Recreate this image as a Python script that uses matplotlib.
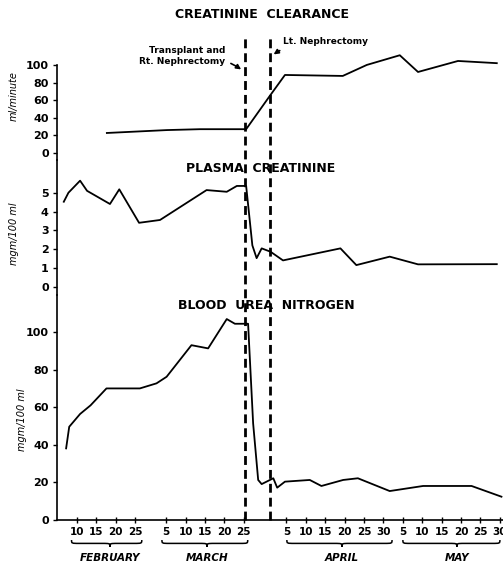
import matplotlib.pyplot as plt
import matplotlib.transforms as mtransforms
from matplotlib.lines import Line2D
from matplotlib.path import Path
from matplotlib.patches import PathPatch

plt.rcParams['font.family'] = ['DejaVu Sans']

# x values are day-of-year (Feb 1 = 32, Mar 1 = 60, Apr 1 = 91, May 1 = 121)
clear_days = [48.7, 64.2, 72.7, 84.6, 90.5, 94.6, 109.5, 115.7, 124.2, 128.9, 139.2, 149.2]
clear_vals = [22.7, 26, 27, 27, 63.6, 88.6, 87.5, 100, 111, 92, 104.5, 102]

creat_days = [37.6, 38.8, 41.8, 43.6, 49.5, 51.9, 57.0, 62.4, 74.4, 79.6, 82.2, 84.6,
              86.2, 87.3, 88.6, 90.9, 94.1, 108.9, 113.0, 121.6, 128.9, 149.2]
creat_vals = [4.52, 5.0, 5.64, 5.1, 4.4, 5.18, 3.4, 3.55, 5.14, 5.05, 5.36, 5.36,
              2.2, 1.52, 2.04, 1.86, 1.4, 2.04, 1.15, 1.6, 1.19, 1.2]

bun_days = [38.2, 39.0, 41.8, 44.5, 48.6, 57.2, 61.5, 64.1, 70.5, 74.8, 79.6, 81.7, 85.1,
            86.4, 87.7, 88.6, 91.6, 92.6, 94.6, 101.0, 104.0, 109.6, 113.4, 121.6,
            130.2, 142.7, 150.4]
bun_vals = [38.1, 49.6, 56.4, 61, 70, 70, 72.7, 76.2, 93, 91.3, 106.9, 104.4, 104.4,
            51.4, 21.3, 19.1, 22.2, 17.2, 20.4, 21.3, 18.1, 21.3, 22.2, 15.4,
            18.1, 18.1, 12.4]

events = [("Transplant and\nRt. Nephrectomy", 84.3), ("Lt. Nephrectomy", 90.7)]

tick_days = [41, 46, 51, 56, 64, 69, 74, 79, 84, 95, 100, 105, 110, 115, 120,
             125, 130, 135, 140, 145, 150]
tick_labels = ["10", "15", "20", "25", "5", "10", "15", "20", "25",
               "5", "10", "15", "20", "25", "30", "5", "10", "15", "20", "25", "30"]

months = ["FEBRUARY", "MARCH", "APRIL", "MAY"]
month_start = [39.6, 62.9, 95.1, 125.0]
month_end = [57.7, 85.0, 122.2, 150.0]
month_mid = [49.5, 74.5, 109.3, 138.9]

W, H = 503, 566
fig = plt.figure(figsize=(W / 100, H / 100), dpi=100)


def fy(px):
    return 1 - px / H


x0, x1 = 57 / W, 1.0
ax1 = fig.add_axes([x0, fy(160), x1 - x0, fy(35) - fy(160)])
ax2 = fig.add_axes([x0, fy(295), x1 - x0, fy(160) - fy(295)], sharex=ax1)
ax3 = fig.add_axes([x0, fy(520), x1 - x0, fy(295) - fy(520)], sharex=ax1)

lw = 1.3
ax1.plot(clear_days, clear_vals, color='black', lw=lw)
ax2.plot(creat_days, creat_vals, color='black', lw=lw)
ax3.plot(bun_days, bun_vals, color='black', lw=lw)

ax1.set_ylim(-8, 134)
ax2.set_ylim(-0.44, 6.74)
ax3.set_ylim(0, 119.7)
ax3.set_xlim(35.85, 150.8)

ax1.set_yticks([0, 20, 40, 60, 80, 100])
ax2.set_yticks([0, 1, 2, 3, 4, 5])
ax3.set_yticks([0, 20, 40, 60, 80, 100])

for ax in (ax1, ax2, ax3):
    for s in ('top', 'right', 'bottom'):
        ax.spines[s].set_visible(False)
    ax.spines['left'].set_linewidth(1.2)
    ax.tick_params(axis='y', direction='out', length=3, width=1, pad=3,
                   labelsize=8)
    for t in ax.get_yticklabels():
        t.set_fontweight('bold')
    ax.tick_params(axis='x', bottom=False, labelbottom=False)
    ax.patch.set_alpha(0)

ax1.spines['left'].set_bounds(-8, 100)
ax3.spines['bottom'].set_visible(True)
ax3.spines['bottom'].set_linewidth(1.2)
ax3.set_xticks(tick_days)
ax3.set_xticklabels(tick_labels)
ax3.tick_params(axis='x', bottom=True, labelbottom=True, direction='inout',
                length=4, width=1, pad=3, labelsize=7.5)
for t in ax3.get_xticklabels():
    t.set_fontweight('bold')

# titles of the three panels
title_kw = dict(ha='center', va='center', fontsize=9, fontweight='bold')
fig.text(262 / W, fy(15), "CREATININE  CLEARANCE", **title_kw)
fig.text(261 / W, fy(169), "PLASMA  CREATININE", **title_kw)
fig.text(266 / W, fy(305), "BLOOD  UREA  NITROGEN", **title_kw)

# axis labels
lab_kw = dict(rotation=90, ha='center', va='center', fontsize=7, style='italic')
fig.text(14 / W, fy(96), "ml/minute", **lab_kw)
fig.text(14 / W, fy(234), "mgm/100 ml", **lab_kw)
fig.text(22 / W, fy(420), "mgm/100 ml", **lab_kw)

# dashed event lines running through all panels
trans = mtransforms.blended_transform_factory(ax3.transData, fig.transFigure)
for name, day in events:
    fig.add_artist(Line2D([day, day], [fy(520), fy(38)], transform=trans,
                          color='black', lw=2, linestyle=(0, (3.2, 1.8))))

ann_kw = dict(fontsize=6.5, fontweight='bold', xycoords=trans, textcoords=trans)
ax1.annotate(events[0][0], xy=(events[0][1] - 0.4, fy(71)),
             xytext=(events[0][1] - 5, fy(56)), ha='right', va='center',
             arrowprops=dict(arrowstyle='-|>', color='black', lw=1.2,
                             connectionstyle='arc3,rad=-0.2', mutation_scale=7),
             **ann_kw)
ax1.annotate(events[1][0], xy=(events[1][1] + 0.4, fy(56)),
             xytext=(events[1][1] + 3.5, fy(42)), ha='left', va='center',
             arrowprops=dict(arrowstyle='-|>', color='black', lw=1.2,
                             connectionstyle='arc3,rad=0.2', mutation_scale=7),
             **ann_kw)

# month braces and names
btrans = mtransforms.blended_transform_factory(ax3.transData, ax3.transAxes)


def brace(ax, a, b, m, y, depth, r=2.0):
    h = y - depth / 2
    t = y - depth
    verts = [(a, y), (a, h), (a, h), (a + r, h),
             (m - r, h),
             (m, h), (m, h), (m, t),
             (m, h), (m, h), (m + r, h),
             (b - r, h),
             (b, h), (b, h), (b, y)]
    codes = [Path.MOVETO, Path.CURVE4, Path.CURVE4, Path.CURVE4,
             Path.LINETO,
             Path.CURVE4, Path.CURVE4, Path.CURVE4,
             Path.CURVE4, Path.CURVE4, Path.CURVE4,
             Path.LINETO,
             Path.CURVE4, Path.CURVE4, Path.CURVE4]
    ax.add_patch(PathPatch(Path(verts, codes), transform=btrans, fill=False,
                           lw=1.1, color='black', clip_on=False))


for name, a, b, m in zip(months, month_start, month_end, month_mid):
    brace(ax3, a, b, m, -0.089, 0.03)
    ax3.text(m, -0.169, name, transform=btrans, ha='center', va='center',
             fontsize=7.5, fontweight='bold', style='italic')

fig.savefig("out.png", dpi=100)
